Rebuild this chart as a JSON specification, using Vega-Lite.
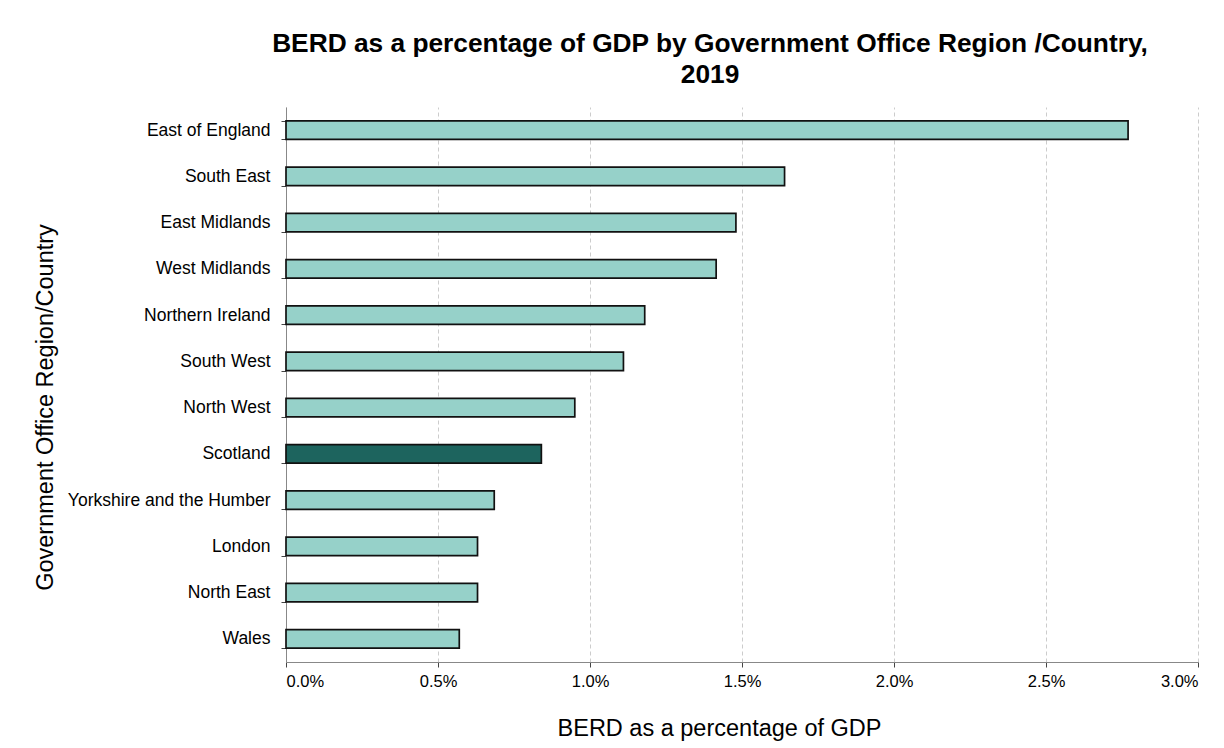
{
  "$schema": "https://vega.github.io/schema/vega-lite/v6.json",
  "autosize": {"type": "none"},
  "width": 912,
  "height": 555,
  "padding": {"left": 286, "top": 107, "right": 26, "bottom": 86},
  "background": "white",
  "title": {
    "text": ["BERD as a percentage of GDP by Government Office Region /Country,", "2019"],
    "font": "Liberation Sans",
    "fontSize": 26.3,
    "fontWeight": "bold",
    "color": "#000000",
    "anchor": "middle",
    "dx": -32,
    "offset": 10,
    "lineHeight": 31
  },
  "data": {
    "values": [
      {"region": "East of England", "berd": 0.0277},
      {"region": "South East", "berd": 0.0164},
      {"region": "East Midlands", "berd": 0.0148},
      {"region": "West Midlands", "berd": 0.01415},
      {"region": "Northern Ireland", "berd": 0.0118},
      {"region": "South West", "berd": 0.0111},
      {"region": "North West", "berd": 0.0095},
      {"region": "Scotland", "berd": 0.0084},
      {"region": "Yorkshire and the Humber", "berd": 0.00685},
      {"region": "London", "berd": 0.0063},
      {"region": "North East", "berd": 0.0063},
      {"region": "Wales", "berd": 0.0057}
    ]
  },
  "mark": {"type": "bar", "stroke": "#111111", "strokeWidth": 1.7},
  "encoding": {
    "y": {
      "field": "region",
      "type": "nominal",
      "sort": null,
      "scale": {"paddingInner": 0.6, "paddingOuter": 0.3},
      "axis": {
        "title": "Government Office Region/Country",
        "titleFont": "Liberation Sans",
        "titleFontSize": 23.5,
        "titleFontWeight": "normal",
        "titleColor": "#000000",
        "titlePadding": 29,
        "titleY": 300,
        "labelFont": "Liberation Sans",
        "labelFontSize": 17.5,
        "labelColor": "#000000",
        "labelPadding": 11,
        "labelLimit": 300,
        "tickBand": "extent",
        "tickSize": 5,
        "tickColor": "#444444",
        "domainColor": "#888888",
        "grid": false
      }
    },
    "x": {
      "field": "berd",
      "type": "quantitative",
      "scale": {"domain": [0, 0.03], "nice": false},
      "axis": {
        "title": "BERD as a percentage of GDP",
        "format": ".1%",
        "values": [0, 0.005, 0.01, 0.015, 0.02, 0.025, 0.03],
        "titleFont": "Liberation Sans",
        "titleFontSize": 23.5,
        "titleFontWeight": "normal",
        "titleColor": "#000000",
        "titlePadding": 27,
        "titleX": 433,
        "labelFont": "Liberation Sans",
        "labelFontSize": 16.5,
        "labelColor": "#000000",
        "labelPadding": 6,
        "tickSize": 5,
        "tickColor": "#444444",
        "domainColor": "#888888",
        "grid": true,
        "gridColor": "#cccccc",
        "gridDash": [4, 3],
        "gridWidth": 1
      }
    },
    "color": {
      "condition": {"test": "datum.region === 'Scotland'", "value": "#1D645E"},
      "value": "#96D1C9"
    }
  },
  "config": {
    "view": {"stroke": null}
  }
}
